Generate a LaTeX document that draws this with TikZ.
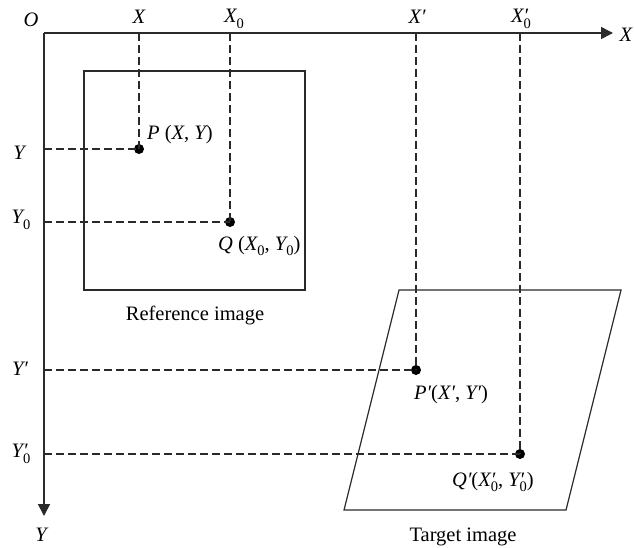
\documentclass[tikz,border=0pt]{standalone}
\usepackage{fontspec}
\setmainfont{Liberation Serif}
\usetikzlibrary{arrows.meta}
\newcommand{\sbz}[1]{\raisebox{-0.28em}{\upshape\fontsize{14.5}{16}\selectfont #1}}
\newcommand{\pr}{′}
\newcommand{\prz}{\rlap{′}\sbz{0}}
\definecolor{ln}{HTML}{2A2A2A}
\begin{document}
\begin{tikzpicture}[x=1pt,y=-1pt,
  every node/.style={font=\fontsize{20.5}{24}\selectfont, text=black, inner sep=0pt},
  axis/.style={draw=ln, line width=1.6pt},
  frame/.style={draw=ln, line width=1.2pt},
  guide/.style={draw=ln, line width=1.3pt, dash pattern=on 8pt off 4pt},
  dot/.style={circle, fill=black, minimum size=10pt, inner sep=0pt},
  lab/.style={anchor=center}]
\useasboundingbox (0,0) rectangle (634,547);
% axes
\coordinate (O) at (44,33);
\coordinate (xe) at (613,33);
\coordinate (ye) at (44,516);
\draw[axis, -{Triangle[length=12pt,width=12pt]}] (O) -- (xe);
\draw[axis, -{Triangle[length=12pt,width=12pt]}] (O) -- (ye);
\node[lab] (Ol) at (31,20) {\itshape O};
\node[lab] (Xl) at (626,35) {\itshape X};
\node[lab] (Yl) at (41,535) {\itshape Y};
% reference image
\draw[frame] (84,71) rectangle (305,290);
\node[lab] (ref) at (195,315) {Reference image};
% target image
\draw[frame] (399,290) -- (621,290) -- (566,510) -- (344,510) -- cycle;
\node[lab] (tgt) at (463,537) {Target image};
% points
\node[dot] (P) at (139,149) {};
\node[dot] (Q) at (230,222) {};
\node[dot] (Pp) at (416,370) {};
\node[dot] (Qp) at (520,454) {};
% axis coordinates
\coordinate (ax1) at (139,33);
\coordinate (ax2) at (230,33);
\coordinate (ax3) at (416,33);
\coordinate (ax4) at (520,33);
\coordinate (ay1) at (44,149);
\coordinate (ay2) at (44,222);
\coordinate (ay3) at (44,370);
\coordinate (ay4) at (44,454);
\draw[guide] (ax1) -- (P.center);
\draw[guide] (ay1) -- (P.center);
\draw[guide] (ax2) -- (Q.center);
\draw[guide] (ay2) -- (Q.center);
\draw[guide] (ax3) -- (Pp.center);
\draw[guide] (ay3) -- (Pp.center);
\draw[guide] (ax4) -- (Qp.center);
\draw[guide] (ay4) -- (Qp.center);
% axis labels
\node[lab] (lx1) at (139,17) {\itshape X};
\node[lab] (lx2) at (234,19) {\itshape X\sbz{0}};
\node[lab] (lx3) at (417,17) {\itshape X\pr};
\node[lab] (lx4) at (521,19) {\itshape X\prz};
\node[lab] (ly1) at (19,153) {\itshape Y};
\node[lab] (ly2) at (21,220) {\itshape Y\sbz{0}};
\node[lab] (ly3) at (20,369) {\itshape Y\pr};
\node[lab] (ly4) at (21,454) {\itshape Y\prz};
% point labels
\node[anchor=west] (lp) at (147,135) {\itshape P \upshape(\itshape X\upshape, \itshape Y\upshape)};
\node[anchor=west] (lq) at (218,246) {\itshape Q \upshape(\itshape X\sbz{0}\upshape, \itshape Y\sbz{0}\upshape)};
\node[anchor=west] (lpp) at (414,395) {\itshape P\pr\upshape(\itshape X\pr\upshape, \itshape Y\pr\upshape)};
\node[anchor=west] (lqp) at (452,482) {\itshape Q\pr\upshape(\itshape X\prz\upshape, \itshape Y\prz\upshape)};
\end{tikzpicture}
\end{document}
